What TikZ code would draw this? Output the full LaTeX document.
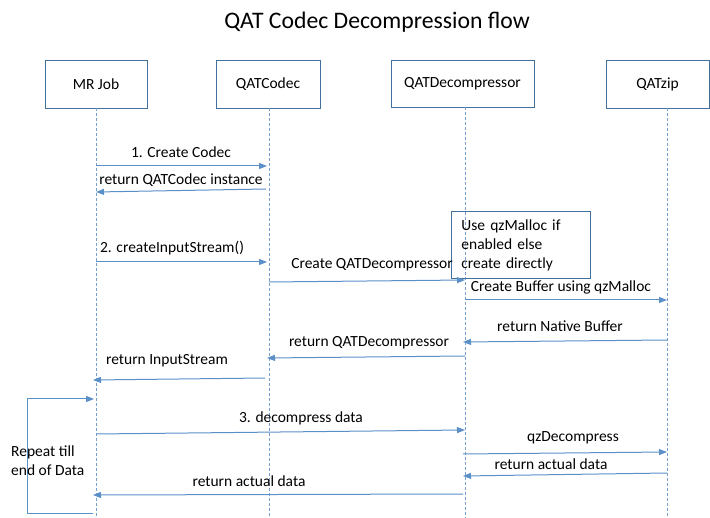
\documentclass[tikz,border=0pt]{standalone}
\usepackage{fontspec}
\setmainfont{Carlito}
\usetikzlibrary{arrows.meta}
\definecolor{boxc}{RGB}{65,113,156}
\definecolor{linec}{RGB}{91,143,199}
\definecolor{lifec}{RGB}{120,160,205}
\begin{document}
\begin{tikzpicture}[x=1pt,y=-1pt,
  actor/.style={draw=boxc, line width=0.8pt, minimum height=48pt, inner sep=0pt, font=\fontsize{15.5}{18}\selectfont},
  life/.style={draw=lifec, dash pattern=on 3pt off 2pt, line width=0.8pt},
  msg/.style={draw=linec, line width=1pt, -{Triangle[length=8pt,width=6pt]}},
  lbl/.style={font=\fontsize{15.5}{18}\selectfont, inner sep=0pt, anchor=center}]
\useasboundingbox (0,0) rectangle (710,518);

% title
\node[inner sep=0pt, font=\fontsize{23.7}{28}\selectfont] (title) at (377,22) {QAT Codec Decompression flow};

% actors
\node[actor, minimum width=102pt] (mr) at (96,84) {MR Job};
\node[actor, minimum width=104pt] (codec) at (268,84) {QATCodec};
\node[actor, minimum width=143pt, minimum height=47pt] (dec) at (462.5,83.5) {QATDecompressor};
\node[actor, minimum width=103pt] (zip) at (657.5,84) {QATzip};

% lifelines
\coordinate (mrT) at (96,108);   \coordinate (mrB) at (96,518);
\coordinate (cdT) at (269,108);  \coordinate (cdB) at (269,518);
\coordinate (dcT) at (465,107);  \coordinate (dcB) at (465,518);
\coordinate (zpT) at (667,108);  \coordinate (zpB) at (667,518);
\draw[life] (mrT) -- (mrB);
\draw[life] (cdT) -- (cdB);
\draw[life] (dcT) -- (dcB);
\draw[life] (zpT) -- (zpB);

% note
\node[draw=boxc, line width=0.8pt, anchor=north west, minimum width=139pt, minimum height=67pt,
  text width=119pt, inner xsep=10pt, inner ysep=4pt, align=left,
  font=\fontsize{15.5}{19}\selectfont] (note) at (451,211)
  {Use qzMalloc if\\enabled else\\create directly};

% message endpoints
\coordinate (m1a) at (96,166);  \coordinate (m1b) at (267,166);
\coordinate (m2a) at (266,189); \coordinate (m2b) at (96,192);
\coordinate (m3a) at (96,262);  \coordinate (m3b) at (267,262);
\coordinate (m4a) at (269,282); \coordinate (m4b) at (465,280);
\coordinate (m5a) at (465,300); \coordinate (m5b) at (667,300);
\coordinate (m6a) at (667,340); \coordinate (m6b) at (463,342);
\coordinate (m7a) at (465,356); \coordinate (m7b) at (267,358);
\coordinate (m8a) at (265,378); \coordinate (m8b) at (93,380);
\coordinate (m9a) at (96,434);  \coordinate (m9b) at (465,430);
\coordinate (m10a) at (463,454); \coordinate (m10b) at (667,452);
\coordinate (m11a) at (667,473); \coordinate (m11b) at (463,476);
\coordinate (m12a) at (463,494); \coordinate (m12b) at (93,495);
% loop
\coordinate (lpA) at (93,514); \coordinate (lpB) at (27,514);
\coordinate (lpC) at (27,399); \coordinate (lpD) at (94,399);

\draw[msg] (m1a) -- (m1b);
\draw[msg] (m2a) -- (m2b);
\draw[msg] (m3a) -- (m3b);
\draw[msg] (m4a) -- (m4b);
\draw[msg] (m5a) -- (m5b);
\draw[msg] (m6a) -- (m6b);
\draw[msg] (m7a) -- (m7b);
\draw[msg] (m8a) -- (m8b);
\draw[msg] (m9a) -- (m9b);
\draw[msg] (m10a) -- (m10b);
\draw[msg] (m11a) -- (m11b);
\draw[msg] (m12a) -- (m12b);
\draw[msg] (lpA) -- (lpB) -- (lpC) -- (lpD);

% labels
\node[lbl] (t1) at (181,152) {1. Create Codec};
\node[lbl] (t2) at (181,180) {return QATCodec instance};
\node[lbl] (t3) at (172,248) {2. createInputStream()};
\node[lbl] (t4) at (372,265) {Create QATDecompressor};
\node[lbl] (t5) at (561,287) {Create Buffer using qzMalloc};
\node[lbl] (t6) at (560,326) {return Native Buffer};
\node[lbl] (t7) at (369,343) {return QATDecompressor};
\node[lbl] (t8) at (167,361) {return InputStream};
\node[lbl] (t9) at (301,418) {3. decompress data};
\node[lbl] (t10) at (573,438) {qzDecompress};
\node[lbl] (t11) at (551,464) {return actual data};
\node[lbl] (t12) at (249,481) {return actual data};
\node[lbl, anchor=west, align=left, font=\fontsize{15.5}{19}\selectfont] (rep) at (11,460.5) {Repeat till\\end of Data};
\end{tikzpicture}
\end{document}
